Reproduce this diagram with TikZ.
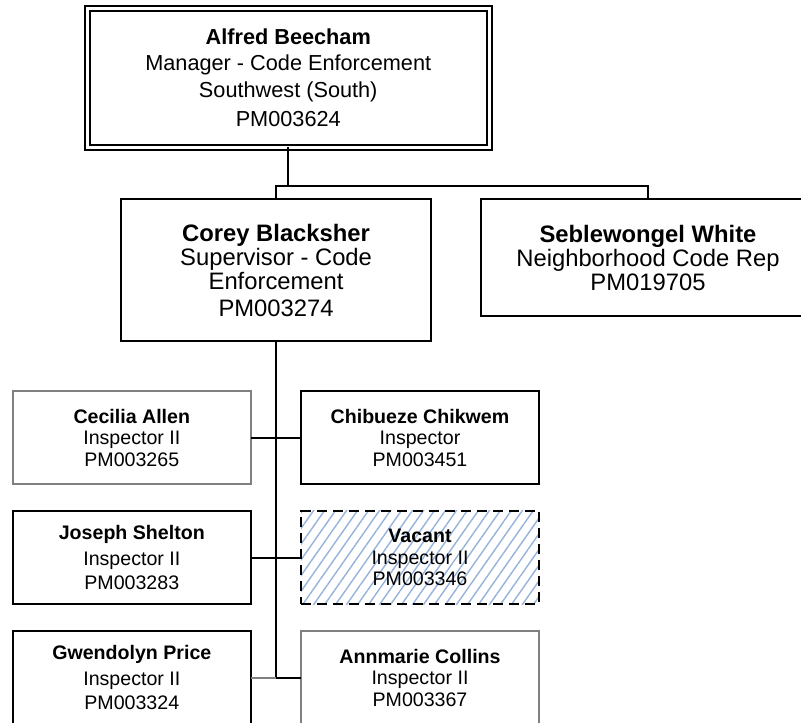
\documentclass[tikz,border=0pt]{standalone}
\usepackage{fontspec}
\setmainfont{Liberation Sans}
\usetikzlibrary{patterns.meta}
\definecolor{hatchblue}{RGB}{150,178,220}
\definecolor{boxgray}{RGB}{128,128,128}
\begin{document}
\begin{tikzpicture}[x=1pt,y=-1pt,
  box/.style={draw=black, line width=2pt, rectangle, inner sep=0pt, outer sep=0pt, align=center, fill=white, text=black},
  topbox/.style={box, double=white, double distance=3pt, font=\fontsize{21.7}{26.5}\selectfont},
  midbox/.style={box, font=\fontsize{23.8}{24}\selectfont},
  staffbox/.style={box, minimum width=238pt, minimum height=93.5pt, font=\fontsize{19.6}{21.5}\selectfont},
  graybox/.style={staffbox, draw=boxgray},
  vacantbox/.style={staffbox, dash pattern=on 10pt off 6pt, pattern={Lines[angle=55, distance=9pt, line width=1.4pt]}, pattern color=hatchblue},
  conn/.style={draw=black, line width=2pt},
  grayconn/.style={draw=boxgray, line width=2pt}
]
\useasboundingbox (0,0) rectangle (801,723);
\clip (0,0) rectangle (801,723);

% top
\node[topbox, minimum width=401.5pt, minimum height=138.5pt] (top) at (288.25,77.75)
  {\textbf{Alfred Beecham}\\Manager - Code Enforcement\\Southwest (South)\\[3pt]PM003624};

% second level
\node[midbox, minimum width=310pt, minimum height=141.4pt] (corey) at (276.1,270)
  {\textbf{Corey Blacksher}\\Supervisor - Code\\Enforcement\\[3pt]PM003274};
\node[midbox, minimum width=334pt, minimum height=117pt] (seble) at (648,257.7)
  {\textbf{Seblewongel White}\\Neighborhood Code Rep\\PM019705};

% staff
\node[graybox] (l1) at (131.8,437.7) {\textbf{Cecilia Allen}\\Inspector II\\PM003265};
\node[staffbox] (r1) at (420,437.7) {\textbf{Chibueze Chikwem}\\Inspector\\PM003451};
\node[staffbox, font=\fontsize{19.6}{24.5}\selectfont] (l2) at (131.8,557.7) {\textbf{Joseph Shelton}\\[1.5pt]Inspector II\\PM003283};
\node[vacantbox] (r2) at (420,557.7) {\textbf{Vacant}\\Inspector II\\PM003346};
\node[staffbox, font=\fontsize{19.6}{24.5}\selectfont] (l3) at (131.8,677.7) {\textbf{Gwendolyn Price}\\[1.5pt]Inspector II\\PM003324};
\node[graybox] (r3) at (420,677.7) {\textbf{Annmarie Collins}\\Inspector II\\PM003367};

% connectors
\coordinate (bus) at (0,186);
\draw[conn] (top.south) -- (top.south |- bus);
\draw[conn] (corey.north) -- (corey.north |- bus) -- (seble.north |- bus) -- (seble.north);
\draw[conn] (corey.south) -- (corey.south |- l3.east);
\draw[conn] (l1.east) -- (r1.west);
\draw[conn] (l2.east) -- (r2.west);
\draw[grayconn] (l3.east) -- (corey.south |- l3.east);
\draw[conn] (corey.south |- l3.east) -- (r3.west);
\end{tikzpicture}
\end{document}
